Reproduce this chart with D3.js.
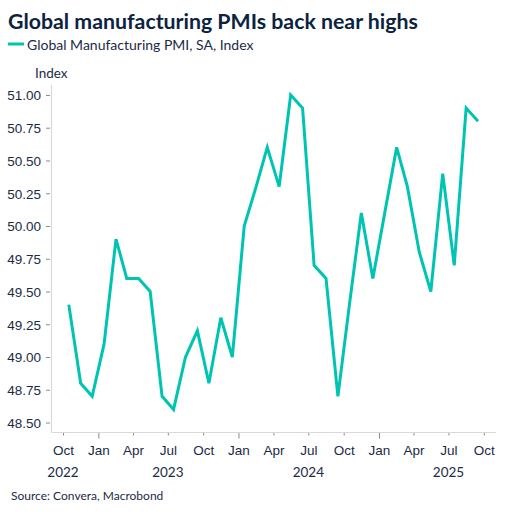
<!DOCTYPE html>
<html>
<head>
  <meta charset="utf-8">
  <title>Global manufacturing PMIs</title>
  <script src="https://cdn.jsdelivr.net/npm/d3@7/dist/d3.min.js"></script>
  <style>
    body { margin: 0; background: #fff; }
    svg { font-family: Lato, "Open Sans", sans-serif; }
    .title { font-size: 21.3px; font-weight: bold; fill: #0b2341; }
    .legend { font-size: 14px; fill: #1b2b47; }
    .unit { font-size: 13.5px; fill: #1b2b47; }
    .source { font-size: 12px; fill: #1b2b47; }
    .axis text { font-size: 13.5px; fill: #1b2b47; }
    .axis line { stroke: #8c8c8c; }
  </style>
</head>
<body>
<script>
  // data: monthly readings, Oct 2022 - Sep 2025
  var months = [
    "2022-10","2022-11","2022-12",
    "2023-01","2023-02","2023-03","2023-04","2023-05","2023-06","2023-07","2023-08","2023-09","2023-10","2023-11","2023-12",
    "2024-01","2024-02","2024-03","2024-04","2024-05","2024-06","2024-07","2024-08","2024-09","2024-10","2024-11","2024-12",
    "2025-01","2025-02","2025-03","2025-04","2025-05","2025-06","2025-07","2025-08","2025-09"
  ];
  var pmi = [
    49.4, 48.8, 48.7,
    49.1, 49.9, 49.6, 49.6, 49.5, 48.7, 48.6, 49.0, 49.2, 48.8, 49.3, 49.0,
    50.0, 50.3, 50.6, 50.3, 51.0, 50.9, 49.7, 49.6, 48.7, 49.4, 50.1, 49.6,
    50.1, 50.6, 50.3, 49.8, 49.5, 50.4, 49.7, 50.9, 50.8
  ];
  var yTicks = [48.5, 48.75, 49.0, 49.25, 49.5, 49.75, 50.0, 50.25, 50.5, 50.75, 51.0];
  var xTickMonths = ["2022-10","2023-01","2023-04","2023-07","2023-10","2024-01","2024-04","2024-07","2024-10","2025-01","2025-04","2025-07","2025-10"];
  var xTickLabels = ["Oct","Jan","Apr","Jul","Oct","Jan","Apr","Jul","Oct","Jan","Apr","Jul","Oct"];
  var yearLabels = ["2022","2023","2024","2025"];
  var yearLabelMonths = ["2022-10","2023-07","2024-07","2025-07"];

  var width = 512, height = 515;
  var plotLeft = 51.5, plotRight = 495.7, plotTop = 85, plotBottom = 432.5;

  var parseMonth = d3.timeParse("%Y-%m");
  var mid = function(m){ var d = parseMonth(m); d.setDate(16); return d; };

  var svg = d3.select("body").append("svg")
      .attr("width", width)
      .attr("height", height);

  var x = d3.scaleTime()
      .domain([parseMonth("2022-09"), parseMonth("2025-11")])
      .range([plotLeft, plotRight]);
  var y = d3.scaleLinear()
      .domain([48.424, 51.076])
      .range([plotBottom, plotTop]);

  // title, legend, unit
  svg.append("text").attr("class","title").attr("x",8).attr("y",29)
     .text("Global manufacturing PMIs back near highs");
  svg.append("line").attr("x1",8).attr("x2",24).attr("y1",44).attr("y2",44)
     .attr("stroke","#00c4b2").attr("stroke-width",3);
  svg.append("text").attr("class","legend").attr("x",27).attr("y",50)
     .text("Global Manufacturing PMI, SA, Index");
  svg.append("text").attr("class","unit").attr("x",35).attr("y",78).text("Index");

  // y axis
  var yAxis = d3.axisLeft(y).tickValues(yTicks).tickFormat(d3.format(".2f"))
      .tickSize(5).tickPadding(5.5);
  var gy = svg.append("g").attr("class","axis")
      .attr("transform","translate(" + plotLeft + ",0)")
      .call(yAxis);
  gy.select(".domain").remove();
  gy.selectAll(".tick line").attr("x1",-1.5).attr("x2",-5.5);
  gy.selectAll(".tick text").attr("dy","0.36em");

  // x axis
  var xAxis = d3.axisBottom(x)
      .tickValues(xTickMonths.map(parseMonth))
      .tickFormat(function(d,i){ return xTickLabels[i]; })
      .tickSize(3).tickPadding(10);
  var gx = svg.append("g").attr("class","axis")
      .attr("transform","translate(0," + plotBottom + ")")
      .call(xAxis);
  gx.select(".domain").remove();
  gx.selectAll(".tick line").attr("y2", function(d){ return d.getMonth() === 0 ? 6 : 3; });
  gx.selectAll(".tick text").attr("y", 13).attr("dy","0.71em");

  svg.append("g").attr("class","axis").selectAll("text")
     .data(yearLabels).enter().append("text")
     .attr("x", function(d,i){ return x(parseMonth(yearLabelMonths[i])); })
     .attr("y", plotBottom + 44.5)
     .attr("text-anchor","middle")
     .text(function(d){ return d; });

  // axis frame lines
  svg.append("line").attr("x1",plotLeft).attr("x2",plotLeft).attr("y1",plotTop).attr("y2",plotBottom)
     .attr("stroke","#d9d9d9").attr("stroke-width",1.2);
  svg.append("line").attr("x1",plotLeft).attr("x2",plotRight).attr("y1",plotBottom).attr("y2",plotBottom)
     .attr("stroke","#d9d9d9").attr("stroke-width",1.2);

  // series
  var line = d3.line()
      .x(function(d,i){ return x(mid(months[i])); })
      .y(function(d){ return y(d); });
  svg.append("path")
     .attr("d", line(pmi))
     .attr("fill","none")
     .attr("stroke","#00c4b2")
     .attr("stroke-width",3)
     .attr("stroke-linejoin","miter");

  svg.append("text").attr("class","source").attr("x",11).attr("y",500)
     .text("Source: Convera, Macrobond");
</script>
</body>
</html>
